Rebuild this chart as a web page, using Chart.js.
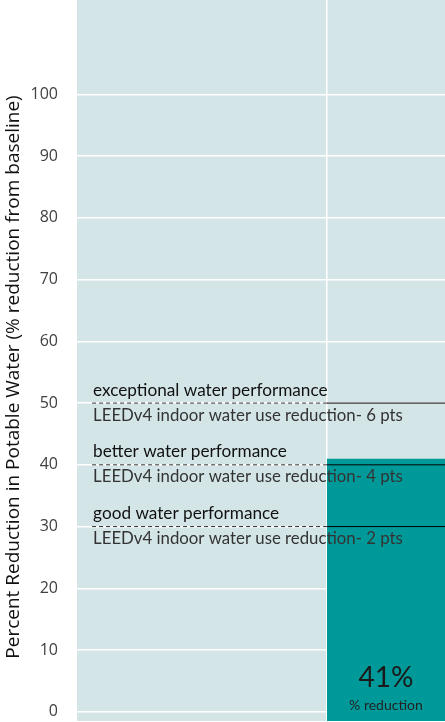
<!DOCTYPE html>
<html><head><meta charset="utf-8">
<script src="https://cdn.jsdelivr.net/npm/chart.js@4/dist/chart.umd.min.js"></script>
<style>html,body{margin:0;padding:0;background:#fff}#wrap{width:445px;height:722px;position:relative}</style>
</head><body><div id="wrap"><canvas id="c" width="445" height="722"></canvas></div>
<script>
// ---- data ----
const yTickValues = [0, 10, 20, 30, 40, 50, 60, 70, 80, 90, 100];
const thresholdValues = [50, 40, 30];
const thresholdTitles = ['exceptional water performance', 'better water performance', 'good water performance'];
const thresholdNotes = ['LEEDv4 indoor water use reduction- 6 pts', 'LEEDv4 indoor water use reduction- 4 pts', 'LEEDv4 indoor water use reduction- 2 pts'];
const reductionValues = [41];
const reductionLabels = ['41%'];
const reductionCaptions = ['% reduction'];
const yAxisTitle = 'Percent Reduction in Potable Water (% reduction from baseline)';

// ---- layout (not data) ----
const X_LINE_START = 0.041, X_SPLIT = 0.679, X_END = 1;
const FONT_IN = 'Lato';
const FONT_AX = 'Open Sans';

const thresholdDatasets = thresholdValues.map(v => ({
  type: 'line',
  data: [{x: X_LINE_START, y: v}, {x: X_SPLIT, y: v}, {x: X_END, y: v}],
  borderWidth: 1,
  borderColor: '#000',
  pointRadius: 0,
  fill: false,
  order: 1,
  segment: {
    borderDash: ctx => ctx.p0DataIndex === 0 ? [4, 3] : [],
    borderColor: ctx => ctx.p0DataIndex === 0 ? '#333' : '#000'
  }
}));

const barDataset = {
  type: 'line',
  data: [{x: X_SPLIT, y: reductionValues[0]}, {x: X_END, y: reductionValues[0]}],
  borderWidth: 0,
  borderColor: 'rgba(0,0,0,0)',
  backgroundColor: '#009999',
  pointRadius: 0,
  fill: 'start',
  order: 10
};

const bgPlugin = {
  id: 'bg',
  beforeDraw(chart) {
    const {ctx, chartArea: a} = chart;
    ctx.save();
    ctx.fillStyle = '#d4e5e8';
    ctx.fillRect(a.left, a.top, a.right - a.left, a.bottom - a.top);
    // y-axis title
    ctx.translate(14, 377);
    ctx.rotate(-Math.PI / 2);
    ctx.textAlign = 'center';
    ctx.textBaseline = 'middle';
    ctx.fillStyle = '#111';
    ctx.font = `19px ${FONT_AX}`;
    ctx.fillText(yAxisTitle, 0, 0);
    ctx.restore();
  }
};

const textPlugin = {
  id: 'texts',
  afterDatasetsDraw(chart) {
    const {ctx} = chart;
    const xs = chart.scales.x, ys = chart.scales.y;
    const x0 = xs.getPixelForValue(X_LINE_START) + 1;
    ctx.save();
    ctx.textAlign = 'left';
    ctx.textBaseline = 'middle';
    thresholdValues.forEach((v, i) => {
      const py = ys.getPixelForValue(v);
      ctx.fillStyle = '#111';
      ctx.font = `17.2px ${FONT_IN}`;
      ctx.fillText(thresholdTitles[i], x0, py - 13);
      ctx.fillStyle = '#333';
      ctx.font = `16.8px ${FONT_IN}`;
      ctx.fillText(thresholdNotes[i], x0, py + 12);
    });
    const cx = (xs.getPixelForValue(X_SPLIT) + xs.getPixelForValue(X_END)) / 2;
    ctx.textAlign = 'center';
    ctx.fillStyle = '#1a1a1a';
    ctx.font = `28px ${FONT_IN}`;
    ctx.fillText(reductionLabels[0], cx, ys.getPixelForValue(5.5));
    ctx.font = `14px ${FONT_IN}`;
    ctx.fillStyle = '#222';
    ctx.fillText(reductionCaptions[0], cx, ys.getPixelForValue(1.0));
    ctx.restore();
  }
};

new Chart(document.getElementById('c'), {
  type: 'line',
  data: { datasets: [...thresholdDatasets, barDataset] },
  plugins: [bgPlugin, textPlugin],
  options: {
    responsive: false,
    animation: false,
    layout: { padding: 0 },
    plugins: { legend: { display: false }, tooltip: { enabled: false } },
    scales: {
      x: {
        type: 'linear', min: 0, max: 1,
        afterBuildTicks: s => { s.ticks = [{value: X_SPLIT}]; },
        afterFit: s => { s.height = 1; s.paddingLeft = 0; s.paddingRight = 0; },
        ticks: { display: false },
        grid: { color: '#ffffff', lineWidth: 1.5, drawTicks: false },
        border: { display: false }
      },
      y: {
        type: 'linear', min: -1.5, max: 115.3,
        afterBuildTicks: s => { s.ticks = yTickValues.map(v => ({value: v})); },
        afterFit: s => { s.width = 77; s.paddingTop = 0; s.paddingBottom = 0; },
        ticks: { color: '#404040', font: { family: FONT_AX, size: 16 }, padding: 19 },
        grid: { color: '#ffffff', lineWidth: 1.5, drawTicks: false },
        border: { display: false },
        title: { display: false }
      }
    }
  }
});
</script>
</body></html>
